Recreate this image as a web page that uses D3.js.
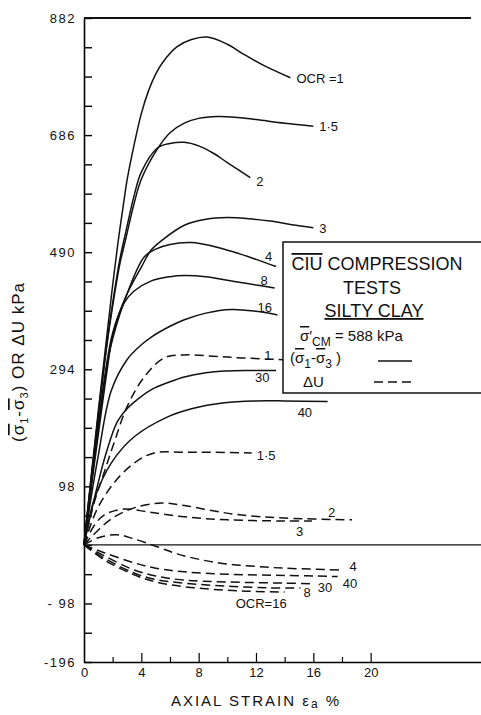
<!DOCTYPE html>
<html>
<head>
<meta charset="utf-8">
<script src="https://cdn.jsdelivr.net/npm/d3@7"></script>
<style>
  body { margin: 0; background: #fff; }
  svg { display: block; font-family: "Liberation Sans", Arial, sans-serif; }
</style>
</head>
<body>
<svg></svg>
<script>
// Data: [axial strain %, kPa]
// solid = deviator stress (s1 - s3), dashed = pore pressure dU
let solid1 = [[0,0],[0.5,115],[1,225],[1.5,330],[2,435],[2.4,511],[2.8,578],[3,610],[3.5,670],[4,722],[4.5,760],[5,788],[5.5,808],[6.5,834],[7.5,846],[8.6,850],[10,838],[11.1,822],[12.5,803],[14.4,782]];
let solid15 = [[0,0],[0.5,110],[1,215],[1.6,335],[2,400],[2.5,470],[2.9,511],[3.5,572],[4,612],[5.1,662],[6,690],[7,706],[8,714],[9.3,717],[10.5,716],[12,712],[14,706],[16,701]];
let solid2 = [[0,0],[0.5,110],[1,218],[1.6,338],[2,405],[2.5,478],[2.9,522],[3.5,585],[4,624],[5.1,664],[6,672],[7,674],[8,668],[9,656],[10,640],[11.6,615]];
let solid3 = [[0,0],[0.5,100],[1,200],[1.5,290],[2,355],[3,420],[4,465],[4.7,494],[5.5,511],[7,535],[8.5,545],[10,548],[11.5,546],[13,542],[14.5,536],[16,531]];
let solid4 = [[0,0],[0.5,100],[1,195],[1.6,300],[2,345],[3,420],[4.2,482],[5,495],[6,503],[7.5,506],[9,500],[10.5,490],[12,478],[13.4,466]];
let solid8 = [[0,0],[0.5,95],[1,185],[1.6,290],[2,350],[2.8,405],[3.5,425],[4.7,442],[6,449],[7,451],[8.5,449],[10,443],[11.5,437],[13.3,430]];
let solid16 = [[0,0],[0.5,80],[1,150],[1.9,258],[3,310],[4,335],[4.7,348],[6,366],[7,377],[8.5,388],[10.3,394],[12,391],[13.5,385]];
let solid30 = [[0,0],[0.5,55],[1,105],[1.5,150],[2.3,205],[3,228],[3.7,243],[4.7,260],[6,273],[7,281],[8.5,288],[9.8,291],[11.5,292],[13.4,292]];
let solid40 = [[0,0],[0.7,75],[1.9,137],[3.5,181],[5.8,214],[7.5,228],[9.8,238],[12,241],[14,241],[17,240]];

let dashed1 = [[0,0],[0.7,70],[1.4,121],[2.1,171],[3,231],[4.2,281],[5.6,313],[7,318],[9,316],[11,313],[13.9,310]];
let dashed15 = [[0,0],[0.9,59],[2.1,104],[3.5,137],[4.9,154],[7,155],[9,155],[11.7,154]];
let dashed2 = [[0,0],[1,25],[2,45],[3.5,62],[5.4,70],[7,66],[9,57],[11,50],[14,45],[18.7,42]];
let dashed3 = [[0,0],[0.7,32],[1.4,50],[2.8,60],[4.5,55],[7,47],[10,42],[14,40],[15.9,40]];
let dashed4 = [[0,0],[1,12],[2.3,17],[3.5,10],[5.1,-3],[6.5,-15],[8.2,-25],[10,-32],[12,-36],[14,-39],[18.1,-42]];
let dashed40 = [[0,0],[1.4,-13],[3.5,-30],[5,-39],[7,-45],[10,-49],[14,-51],[17.7,-53]];
let dashed30 = [[0,0],[1.4,-18],[3.5,-42],[5,-52],[7,-59],[10,-62],[14,-64],[16.1,-65]];
let dashed8 = [[0,0],[1.4,-22],[3.5,-47],[5,-58],[7,-64],[10,-69],[13,-72],[15.1,-72]];
let dashed16 = [[0,0],[1.4,-25],[3.5,-50],[5,-62],[7,-70],[10,-76],[12,-78],[14,-79]];

let zeroLine = [[0,0],[27.7,0]];

let yTicks = d3.range(-196, 883, 49);
let yLabels = [882, 686, 490, 294, 98, -98, -196];
let xTicks = d3.range(0, 21, 2);
let xLabels = [0, 4, 8, 12, 16, 20];

let width = 481;
let height = 715;

let svg = d3.select("svg").attr("width", width).attr("height", height);

let xScale = d3.scaleLinear().domain([0, 27.7]).range([84, 481]);
let yScale = d3.scaleLinear().domain([-196, 882]).range([662, 18]);

// curves with their OCR label and label nudge (px)
let curves = [
  { data: solid1, dash: false, label: "OCR =1", dx: 6, dy: 5 },
  { data: solid15, dash: false, label: "1·5", dx: 6, dy: 5 },
  { data: solid2, dash: false, label: "2", dx: 6, dy: 8 },
  { data: solid3, dash: false, label: "3", dx: 6, dy: 5 },
  { data: solid4, dash: false, label: "4", dx: -11, dy: -6 },
  { data: solid8, dash: false, label: "8", dx: -14, dy: -3 },
  { data: solid16, dash: false, label: "16", dx: -20, dy: -3 },
  { data: solid30, dash: false, label: "30", dx: -21, dy: 12 },
  { data: solid40, dash: false, label: "40", dx: -30, dy: 15 },
  { data: dashed1, dash: true, label: "1", dx: -19, dy: 0 },
  { data: dashed15, dash: true, label: "1·5", dx: 5, dy: 7 },
  { data: dashed2, dash: true, label: "2", dx: -24, dy: -3 },
  { data: dashed3, dash: true, label: "3", dx: -16, dy: 15 },
  { data: dashed4, dash: true, label: "4", dx: 6, dy: 1 },
  { data: dashed40, dash: true, label: "40", dx: 5, dy: 11 },
  { data: dashed30, dash: true, label: "30", dx: 3, dy: 8 },
  { data: dashed8, dash: true, label: "8", dx: 3, dy: 9 },
  { data: dashed16, dash: true, label: "OCR=16", dx: 2, dy: 16, anchor: "end" },
];

let line = d3.line()
  .x((d) => xScale(d[0]))
  .y((d) => yScale(d[1]))
  .curve(d3.curveCatmullRom.alpha(0.5));

// Axes
let drawAxes = () => {
  let yAxis = d3.axisLeft(yScale)
    .tickValues(yTicks)
    .tickSizeInner(-8)
    .tickSizeOuter(0)
    .tickPadding(8)
    .tickFormat((d) => {
      if (!yLabels.includes(d)) return "";
      if (d === -98) return "- 98";
      return d;
    });

  let gy = svg.append("g")
    .attr("transform", "translate(" + xScale(0) + ", 0)")
    .call(yAxis);
  gy.select(".domain").attr("stroke-width", 1.6);
  gy.selectAll(".tick line").attr("stroke-width", 1.4);
  gy.selectAll(".tick text")
    .attr("font-size", 13)
    .attr("letter-spacing", 1.5)
    .attr("fill", "#111");

  let xAxis = d3.axisBottom(xScale)
    .tickValues(xTicks)
    .tickSizeInner(-9)
    .tickSizeOuter(0)
    .tickPadding(6)
    .tickFormat((d) => (xLabels.includes(d) ? d : ""));

  let gx = svg.append("g")
    .attr("transform", "translate(0, " + yScale(-196) + ")")
    .call(xAxis);
  gx.select(".domain").attr("stroke-width", 1.6);
  gx.selectAll(".tick line")
    .attr("stroke-width", 1.2)
    .attr("y2", (d) => (xLabels.includes(d) ? -9 : -5));
  gx.selectAll(".tick")
    .filter((d) => d === 0)
    .select("line")
    .remove();
  gx.selectAll(".tick text")
    .attr("font-size", 13)
    .attr("fill", "#111");

  // top frame line
  svg.append("line")
    .attr("x1", xScale(0))
    .attr("x2", xScale(27))
    .attr("y1", yScale(882))
    .attr("y2", yScale(882))
    .attr("stroke", "#111")
    .attr("stroke-width", 2);

  // axis titles
  svg.append("text")
    .attr("x", 256)
    .attr("y", 706)
    .attr("text-anchor", "middle")
    .attr("font-size", 15)
    .attr("letter-spacing", 2)
    .attr("fill", "#111")
    .text("AXIAL  STRAIN  ε")
    .append("tspan")
    .attr("font-size", 12)
    .attr("dy", 2)
    .text("a")
    .append("tspan")
    .attr("dy", -2)
    .attr("font-size", 15)
    .text(" %");

  let yt = svg.append("text")
    .attr("transform", "translate(24, 362) rotate(-90)")
    .attr("text-anchor", "middle")
    .attr("font-size", 17)
    .attr("letter-spacing", 1)
    .attr("fill", "#111");
  yt.append("tspan").text("(");
  yt.append("tspan").attr("text-decoration", "overline").text("σ");
  yt.append("tspan").attr("font-size", 11).attr("dy", 4).text("1");
  yt.append("tspan").attr("dy", -4).text("-");
  yt.append("tspan").attr("text-decoration", "overline").text("σ");
  yt.append("tspan").attr("font-size", 11).attr("dy", 4).text("3");
  yt.append("tspan").attr("dy", -4).text(")  OR  ΔU  kPa");
};

let drawCurves = () => {
  svg.append("path")
    .datum(zeroLine)
    .attr("d", line)
    .attr("fill", "none")
    .attr("stroke", "#111")
    .attr("stroke-width", 1.3);

  svg.selectAll(".curve")
    .data(curves)
    .enter()
    .append("path")
    .attr("class", "curve")
    .attr("d", (item) => line(item.data))
    .attr("fill", "none")
    .attr("stroke", "#111")
    .attr("stroke-width", 1.5)
    .attr("stroke-dasharray", (item) => (item.dash ? "9,5" : null));

  svg.selectAll(".curve-label")
    .data(curves)
    .enter()
    .append("text")
    .attr("class", "curve-label")
    .attr("x", (item) => xScale(item.data[item.data.length - 1][0]) + item.dx)
    .attr("y", (item) => yScale(item.data[item.data.length - 1][1]) + item.dy)
    .attr("text-anchor", (item) => item.anchor || "start")
    .attr("font-size", 13)
    .attr("fill", "#111")
    .text((item) => item.label);
};

let drawLegend = () => {
  let g = svg.append("g");
  g.append("rect")
    .attr("x", 283)
    .attr("y", 242)
    .attr("width", 220)
    .attr("height", 151)
    .attr("fill", "#fff")
    .attr("stroke", "#111")
    .attr("stroke-width", 1.5);

  let t1 = g.append("text")
    .attr("x", 377)
    .attr("y", 270)
    .attr("text-anchor", "middle")
    .attr("font-size", 18)
    .attr("fill", "#111");
  t1.append("tspan").attr("text-decoration", "overline").text("CIU");
  t1.append("tspan").text(" COMPRESSION");

  g.append("text")
    .attr("x", 372)
    .attr("y", 294)
    .attr("text-anchor", "middle")
    .attr("font-size", 18)
    .attr("fill", "#111")
    .text("TESTS");

  g.append("text")
    .attr("x", 374)
    .attr("y", 317)
    .attr("text-anchor", "middle")
    .attr("font-size", 18)
    .attr("text-decoration", "underline")
    .attr("fill", "#111")
    .text("SILTY  CLAY");

  let t4 = g.append("text")
    .attr("x", 300)
    .attr("y", 341)
    .attr("font-size", 15)
    .attr("fill", "#111");
  t4.append("tspan").attr("text-decoration", "overline").text("σ");
  t4.append("tspan").text("′");
  t4.append("tspan").attr("font-size", 12).attr("dy", 5).text("CM");
  t4.append("tspan").attr("dy", -5).text(" = 588 kPa");

  let t5 = g.append("text")
    .attr("x", 290)
    .attr("y", 363)
    .attr("font-size", 15)
    .attr("fill", "#111");
  t5.append("tspan").text("(");
  t5.append("tspan").attr("text-decoration", "overline").text("σ");
  t5.append("tspan").attr("font-size", 12).attr("dy", 5).text("1");
  t5.append("tspan").attr("dy", -5).text("-");
  t5.append("tspan").attr("text-decoration", "overline").text("σ");
  t5.append("tspan").attr("font-size", 12).attr("dy", 5).text("3");
  t5.append("tspan").attr("dy", -5).text(" )");

  g.append("line")
    .attr("x1", 378).attr("x2", 412)
    .attr("y1", 361).attr("y2", 361)
    .attr("stroke", "#111").attr("stroke-width", 1.5);

  g.append("text")
    .attr("x", 303)
    .attr("y", 387)
    .attr("font-size", 15)
    .attr("fill", "#111")
    .text("ΔU");

  g.append("line")
    .attr("x1", 374).attr("x2", 415)
    .attr("y1", 382).attr("y2", 382)
    .attr("stroke", "#111").attr("stroke-width", 1.5)
    .attr("stroke-dasharray", "9,5");
};

drawAxes();
drawCurves();
drawLegend();
</script>
</body>
</html>
